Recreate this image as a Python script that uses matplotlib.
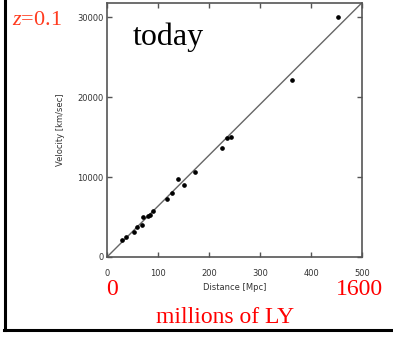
import numpy as np
import matplotlib.pyplot as plt
from matplotlib.lines import Line2D

plt.rcParams['mathtext.fontset'] = 'custom'
plt.rcParams['mathtext.rm'] = 'Liberation Serif'
plt.rcParams['mathtext.it'] = 'Liberation Serif:italic'

# Hubble diagram data
distance_mpc = [29, 37, 52, 58, 68, 71, 81, 84, 91, 117, 127, 140, 150,
                172, 225, 235, 244, 363, 453]
velocity_kms = [2125, 2540, 3160, 3790, 4000, 5040, 5125, 5250, 5790, 7210,
                7960, 9710, 9000, 10660, 13590, 14840, 14960, 22125, 30040]
fit_x = [0, 500]
fit_y = [0, 31800]
xticks = [0, 100, 200, 300, 400, 500]
yticks = [0, 10000, 20000, 30000]

fig = plt.figure(figsize=(3.93, 3.39), dpi=100)
ax = fig.add_axes([107 / 393, 1 - 257 / 339, 255 / 393, 254.3 / 339])

ax.plot(fit_x, fit_y, color='#666666', lw=1.0)
ax.scatter(distance_mpc, velocity_kms, s=5.5, color='black', zorder=3)

ax.set_xlim(0, 500)
ax.set_ylim(0, 31800)
ax.set_xticks(xticks)
ax.set_yticks(yticks)
ax.tick_params(direction='in', length=3.6, width=1, color='#555555',
               top=True, right=True, labelsize=6, labelcolor='#333333')
ax.tick_params(axis='x', pad=9)
ax.tick_params(axis='y', pad=2.5)
for s in ax.spines.values():
    s.set_color('#555555')
    s.set_linewidth(1.2)

ax.set_xlabel('Distance [Mpc]', fontsize=6, color='#333333', labelpad=3)
ax.set_ylabel('Velocity [km/sec]', fontsize=6, color='#333333', labelpad=9)

# slide annotations
fig.text(12 / 393, 1 - 25 / 339, r'$z$=0.1', color='#ff3b1f',
         fontsize=16, family='Liberation Serif', va='baseline')
fig.text(133 / 393, 1 - 45 / 339, 'today', color='black',
         fontsize=23, family='Liberation Serif', va='baseline')
fig.text(112.5 / 393, 1 - 295 / 339, '0', color='red',
         fontsize=17, family='Liberation Serif', va='baseline', ha='center')
fig.text(359.5 / 393, 1 - 295 / 339, '1600', color='red',
         fontsize=17, family='Liberation Serif', va='baseline', ha='center')
fig.text(225 / 393, 1 - 323 / 339, 'millions of LY', color='red',
         fontsize=17, family='Liberation Serif', va='baseline', ha='center')

# frame lines of the slide
fig.add_artist(Line2D([4.5 / 393, 4.5 / 393], [1, 1 - 330 / 339],
                      transform=fig.transFigure, color='black', lw=2.2))
fig.add_artist(Line2D([3.5 / 393, 1], [1 - 329.5 / 339, 1 - 329.5 / 339],
                      transform=fig.transFigure, color='black', lw=2.2))

fig.savefig('out.png', dpi=100)
